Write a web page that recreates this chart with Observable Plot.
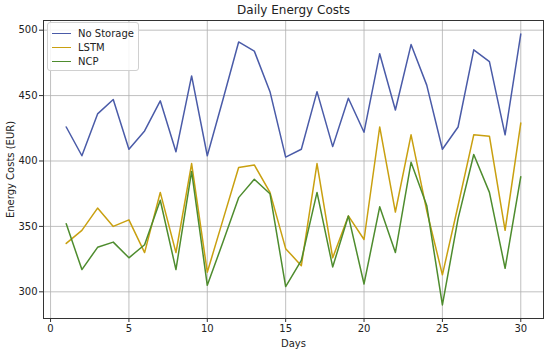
<!DOCTYPE html>
<html>
<head>
<meta charset="utf-8">
<script src="https://cdn.jsdelivr.net/npm/d3@7"></script>
<script src="https://cdn.jsdelivr.net/npm/@observablehq/plot@0.6"></script>
<style>
  body { margin: 0; background: white; }
  #wrap { position: relative; width: 550px; height: 352px; font-family: "DejaVu Sans", sans-serif; }
  #legend { position: absolute; left: 47px; top: 22px; padding: 3px 4px 2px 0; white-space: nowrap;
    background: rgba(255,255,255,0.85); border: 1px solid #d0d0d0; border-radius: 3px; font-size: 10px; color: #222; }
  .item { display: flex; align-items: center; height: 14px; white-space: nowrap; }
  .sw { display: inline-block; width: 19px; height: 0; border-top: 1.5px solid; margin: 0 7px 0 4px; flex: none; }
</style>
</head>
<body>
<div id="wrap"><div id="legend"></div></div>
<script>
const days = [1,2,3,4,5,6,7,8,9,10,11,12,13,14,15,16,17,18,19,20,21,22,23,24,25,26,27,28,29,30];
const series = ["No Storage", "LSTM", "NCP"];
const colors = ["#4a5ba8", "#c9a010", "#4e8c2e"];
const noStorage = [426,404,436,447,409,423,446,407,465,404,447,491,484,453,403,409,453,411,448,422,482,439,489,458,409,426,485,476,420,497];
const lstm      = [337,347,364,350,355,330,376,330,398,315,355,395,397,376,333,320,398,326,358,340,426,361,420,362,313,366,420,419,347,429];
const ncp       = [352,317,334,338,326,336,370,317,392,305,338,372,386,375,304,324,376,319,358,306,365,330,399,366,290,356,405,376,318,388];
const xTicks = [0,5,10,15,20,25,30];
const yTicks = [300,350,400,450,500];

const values = [noStorage, lstm, ncp];
const rows = [];
series.forEach((s, i) => days.forEach((d, j) => rows.push({series: s, day: d, value: values[i][j]})));

const chart = Plot.plot({
  width: 550, height: 352,
  marginLeft: 43, marginRight: 7, marginTop: 20, marginBottom: 34,
  style: {fontFamily: "DejaVu Sans, sans-serif", fontSize: "10px", color: "#222", background: "white"},
  x: {domain: [-0.45, 31.45], label: null},
  y: {domain: [279.6, 507.4], label: null},
  color: {domain: series, range: colors},
  marks: [
    Plot.gridX(xTicks, {stroke: "#b0b0b0", strokeOpacity: 1, strokeWidth: 0.8}),
    Plot.gridY(yTicks, {stroke: "#b0b0b0", strokeOpacity: 1, strokeWidth: 0.8}),
    Plot.line(rows, {x: "day", y: "value", z: "series", stroke: "series", strokeWidth: 1.5}),
    Plot.frame({stroke: "#333", strokeWidth: 1}),
    Plot.axisX(xTicks, {tickSize: 4, tickPadding: 2, fontSize: 10, stroke: "#333"}),
    Plot.axisY(yTicks, {tickSize: 4, tickPadding: 2, fontSize: 10, stroke: "#333"}),
    Plot.text(["Days"], {frameAnchor: "bottom", dy: 25, lineAnchor: "middle", fontSize: 10}),
    Plot.text(["Energy Costs (EUR)"], {frameAnchor: "left", dx: -33, rotate: -90, textAnchor: "middle", lineAnchor: "middle", fontSize: 10}),
    Plot.text(["Daily Energy Costs"], {frameAnchor: "top", dy: -10, lineAnchor: "middle", fontSize: 12})
  ]
});
const wrap = document.getElementById("wrap");
wrap.insertBefore(chart, wrap.firstChild);

const legend = document.getElementById("legend");
series.forEach((s, i) => {
  const it = document.createElement("div");
  it.className = "item";
  const sw = document.createElement("span");
  sw.className = "sw";
  sw.style.borderTopColor = colors[i];
  const t = document.createElement("span");
  t.textContent = s;
  it.appendChild(sw); it.appendChild(t);
  legend.appendChild(it);
});
</script>
</body>
</html>
